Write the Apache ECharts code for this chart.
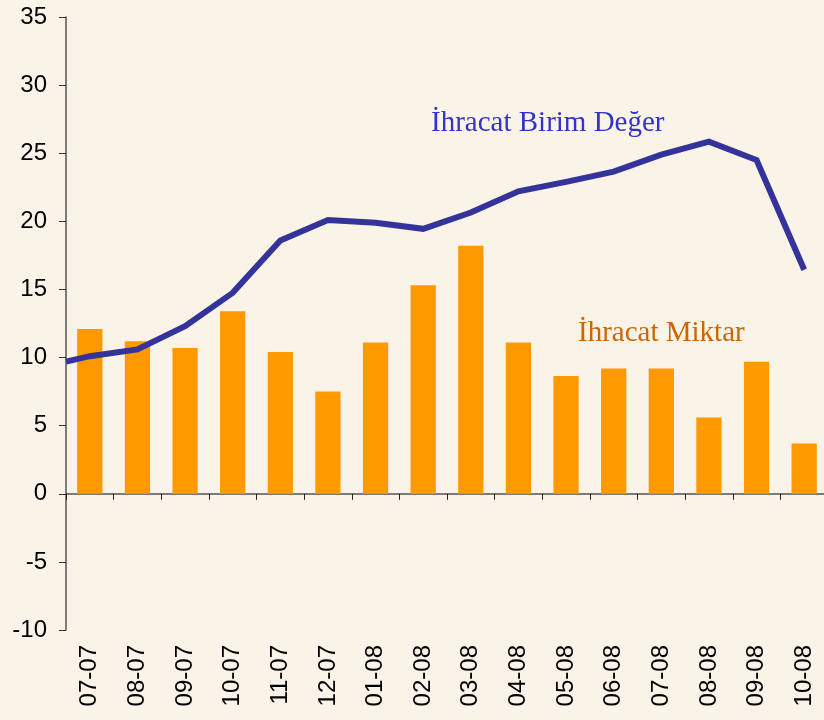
<!DOCTYPE html>
<html>
<head>
<meta charset="utf-8">
<script src="https://cdn.jsdelivr.net/npm/echarts@6/dist/echarts.min.js"></script>
<style>
html,body{margin:0;padding:0;background:#FAF3E8;overflow:hidden;width:824px;height:720px;}
#chart{width:832px;height:720px;}
</style>
</head>
<body>
<div id="chart"></div>
<script>
var categories = ['07-07','08-07','09-07','10-07','11-07','12-07','01-08','02-08','03-08','04-08','05-08','06-08','07-08','08-08','09-08','10-08'];
var miktar = [12.1, 11.2, 10.7, 13.4, 10.4, 7.5, 11.1, 15.3, 18.2, 11.1, 8.65, 9.2, 9.2, 5.6, 9.7, 3.7];
var birimDeger = [10.1, 10.6, 12.3, 14.75, 18.6, 20.1, 19.9, 19.45, 20.65, 22.2, 22.9, 23.65, 24.9, 25.85, 24.5, 16.45];
var birimDegerStart = 9.7; // value where the line enters at the left edge of the plot
var yTicks = {min: -10, max: 35, interval: 5};
var labelBirim = 'İhracat Birim Değer';
var labelMiktar = 'İhracat Miktar';

// line data on a continuous x scale: category i centred at i + 0.5
var lineData = [[0, birimDegerStart]];
birimDeger.forEach(function (v, i) { lineData.push([i + 0.5, v]); });

var chart = echarts.init(document.getElementById('chart'), null, {renderer: 'canvas'});
var axisColor = '#555555';
chart.setOption({
  backgroundColor: '#FAF3E8',
  animation: false,
  grid: {left: 66, top: 17, bottom: 90, right: 4, containLabel: false},
  xAxis: [
    {
      type: 'category', data: categories, gridIndex: 0,
      axisLine: {onZero: true, lineStyle: {color: axisColor, width: 1.5}},
      axisTick: {show: true, alignWithLabel: false, length: 6, lineStyle: {color: '#222', width: 1}},
      axisLabel: {show: false},
      splitLine: {show: false}
    },
    {
      type: 'category', data: categories, gridIndex: 0, position: 'bottom',
      axisLine: {show: false, onZero: false},
      axisTick: {show: false},
      axisLabel: {show: true, rotate: 90, margin: 15, interval: 0, color: '#000',
        fontFamily: 'Liberation Sans, Arial, sans-serif', fontSize: 24},
      splitLine: {show: false}
    },
    {
      type: 'value', gridIndex: 0, min: 0, max: categories.length, show: false
    }
  ],
  yAxis: {
    type: 'value', min: yTicks.min, max: yTicks.max, interval: yTicks.interval,
    axisLine: {show: true, lineStyle: {color: axisColor, width: 1.5}},
    axisTick: {show: true, length: 7, lineStyle: {color: '#333', width: 1}},
    axisLabel: {margin: 19, color: '#000', fontFamily: 'Liberation Sans, Arial, sans-serif', fontSize: 24},
    splitLine: {show: false}
  },
  series: [
    {
      type: 'bar', name: labelMiktar, data: miktar, xAxisIndex: 0,
      barWidth: '53%',
      itemStyle: {color: '#FF9900'}
    },
    {
      type: 'line', name: labelBirim, data: lineData, xAxisIndex: 2,
      showSymbol: false, symbol: 'none',
      lineStyle: {color: '#333399', width: 6, join: 'miter'},
      z: 5
    }
  ],
  graphic: [
    {type: 'text', left: 431, top: 109, style: {text: labelBirim, fill: '#3333CC',
      font: '29px "Liberation Serif", "Times New Roman", serif'}},
    {type: 'text', left: 578, top: 319, style: {text: labelMiktar, fill: '#CC6600',
      font: '29px "Liberation Serif", "Times New Roman", serif'}}
  ]
});
</script>
</body>
</html>
